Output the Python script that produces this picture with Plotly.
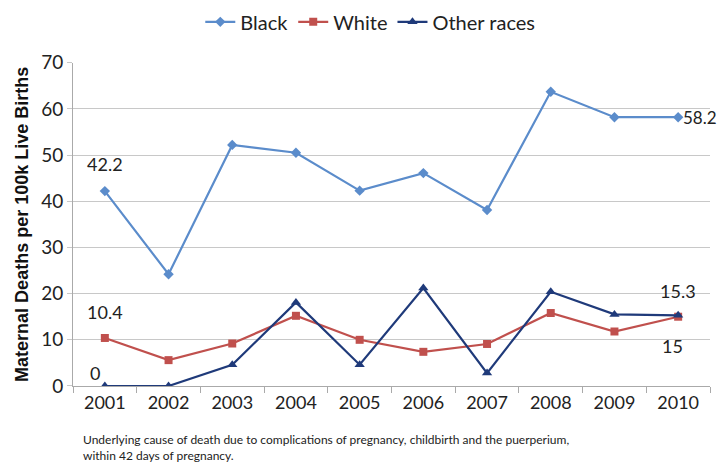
import plotly.graph_objects as go

years = ["2001", "2002", "2003", "2004", "2005", "2006", "2007", "2008", "2009", "2010"]
black = [42.2, 24.2, 52.2, 50.5, 42.3, 46.1, 38.1, 63.7, 58.2, 58.2]
white = [10.4, 5.6, 9.2, 15.2, 10.0, 7.4, 9.1, 15.8, 11.8, 15.0]
other = [0.0, 0.0, 4.6, 18.1, 4.6, 21.2, 2.8, 20.4, 15.5, 15.3]
y_ticks = [0, 10, 20, 30, 40, 50, 60, 70]

FONT = "Lato, sans-serif"
C_BLACK = "#5B8CCB"
C_WHITE = "#C0504D"
C_OTHER = "#1F3A7A"

fig = go.Figure()
fig.add_trace(go.Scatter(x=years, y=black, name="Black", mode="lines+markers",
                         line=dict(color=C_BLACK, width=2.2),
                         marker=dict(symbol="diamond", size=8, color=C_BLACK)))
fig.add_trace(go.Scatter(x=years, y=white, name="White", mode="lines+markers",
                         line=dict(color=C_WHITE, width=2.2),
                         marker=dict(symbol="square", size=8, color=C_WHITE)))
fig.add_trace(go.Scatter(x=years, y=other, name="Other races", mode="lines+markers",
                         line=dict(color=C_OTHER, width=2.2),
                         marker=dict(symbol="triangle-up", size=9, color=C_OTHER)))

first = 0
last = len(years) - 1
ann_style = dict(showarrow=False, font=dict(family=FONT, size=18, color="#222222"))
fig.add_annotation(x=first, y=black[first], text="42.2", yshift=27, **ann_style)
fig.add_annotation(x=first, y=white[first], text="10.4", yshift=26, **ann_style)
fig.add_annotation(x=first, y=other[first], text="0", yshift=13, xshift=-10, **ann_style)
fig.add_annotation(x=last, y=black[last], text="58.2", xanchor="left", xshift=3,
                   showarrow=False, font=dict(family=FONT, size=17, color="#222222"))
fig.add_annotation(x=last, y=other[last], text="15.3", yshift=24, **ann_style)
fig.add_annotation(x=last, y=white[last], text="15", yshift=-29, xshift=-6, **ann_style)

fig.add_annotation(xref="paper", yref="paper", x=0.012, y=-0.135, xanchor="left", yanchor="top",
                   align="left", showarrow=False,
                   text="Underlying cause of death due to complications of pregnancy, childbirth and the puerperium,<br>within 42 days of pregnancy.",
                   font=dict(family=FONT, size=12, color="#222222"))

fig.update_layout(
    width=719, height=470,
    margin=dict(l=73, r=9, t=53, b=84),
    paper_bgcolor="white", plot_bgcolor="white",
    font=dict(family=FONT, color="#222222"),
    showlegend=True,
    legend=dict(orientation="h", xref="container", yref="container", x=0.515, y=0.995,
                xanchor="center", yanchor="top", font=dict(family=FONT, size=20),
                itemwidth=30, tracegroupgap=0),
    xaxis=dict(type="category", range=[-0.5, 9.5], tickson="boundaries", ticks="outside",
               ticklen=6, tickcolor="#aaaaaa", showgrid=False, showline=True,
               linecolor="#aaaaaa", linewidth=1,
               tickfont=dict(family=FONT, size=18, color="#222222")),
    yaxis=dict(range=[0, 70], tickvals=y_ticks, ticks="outside", ticklen=5,
               tickcolor="#c8c8c8", gridcolor="#c8c8c8", gridwidth=1,
               showline=True, linecolor="#aaaaaa", zeroline=False,
               tickfont=dict(family=FONT, size=19, color="#222222"),
               title=dict(text="<b>Maternal Deaths per 100k Live Births</b>",
                          font=dict(family="Liberation Sans, Arial, sans-serif", size=18, color="#111111"),
                          standoff=7)),
)

fig.write_html("out.html")
